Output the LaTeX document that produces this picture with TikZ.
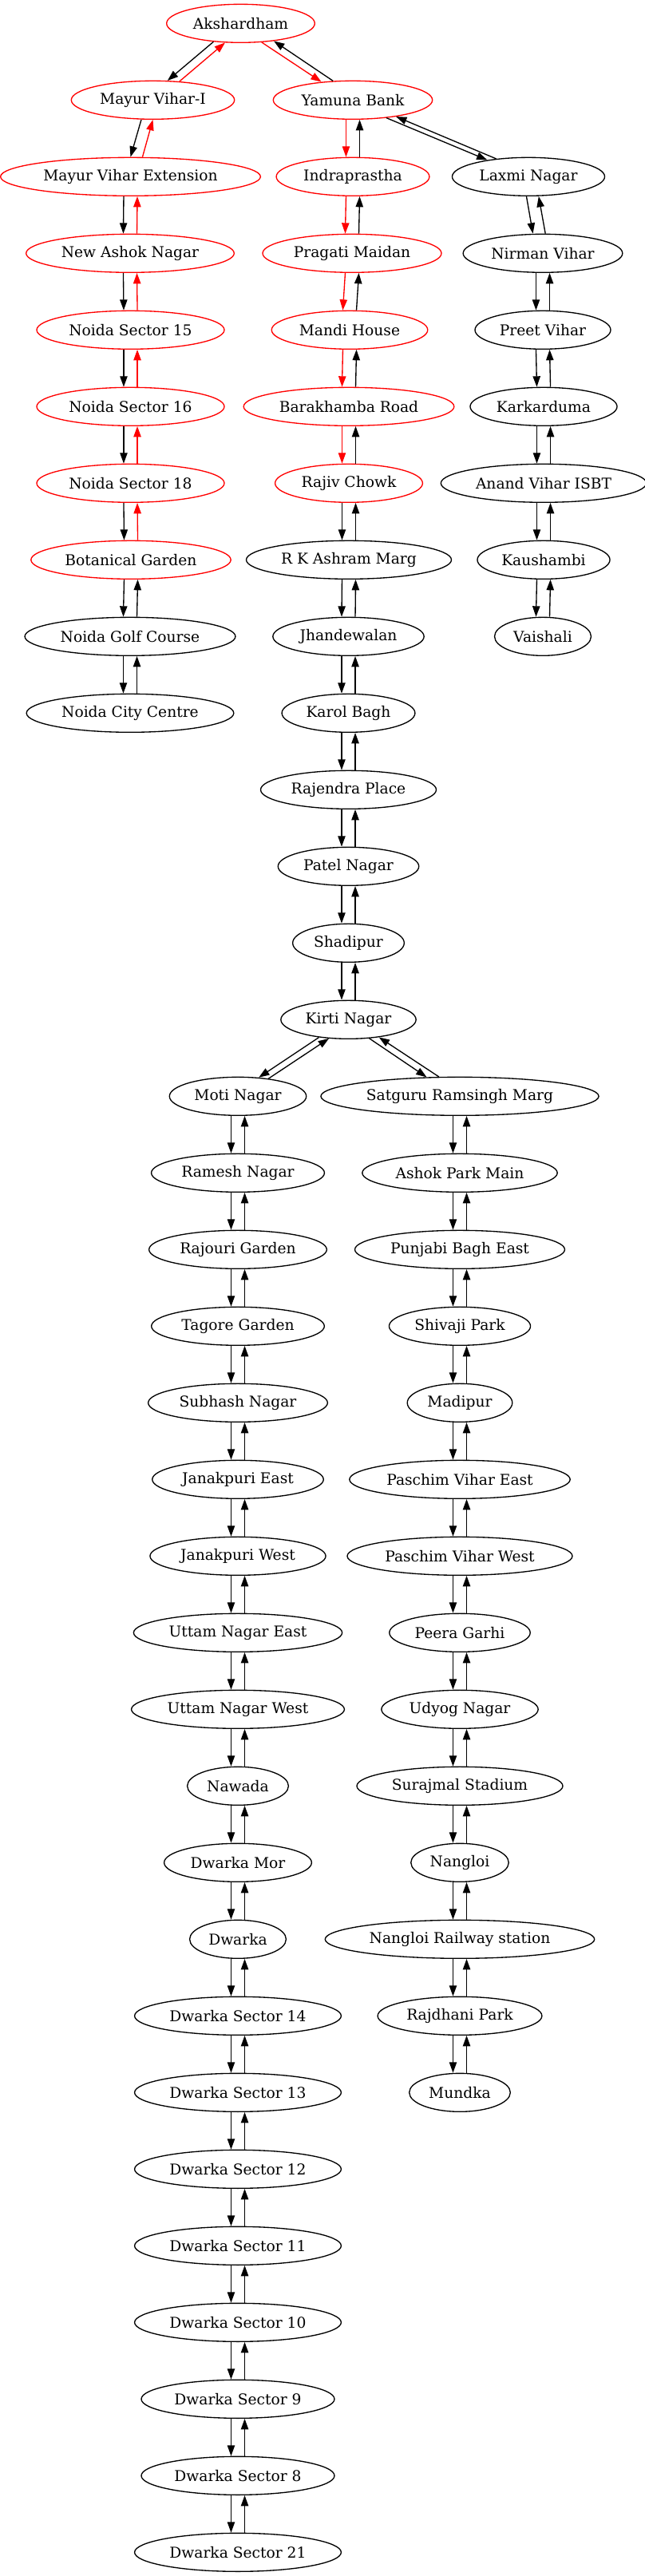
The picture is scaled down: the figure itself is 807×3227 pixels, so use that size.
\documentclass[tikz,border=0pt]{standalone}
\usepackage{fontspec}
\setmainfont{DejaVu Serif}
\usetikzlibrary{arrows.meta,shapes.geometric}
\newcommand{\updown}[4]{%
  \draw[link,#3] ([xshift=-6.4pt]#1.south) -- ([xshift=-6.4pt]#2.north);
  \draw[link,#4] ([xshift=6.4pt]#2.north) -- ([xshift=6.4pt]#1.south);}

\begin{document}
\begin{tikzpicture}[x=0.75pt,y=-0.75pt,
    stn/.style={draw,ellipse,line width=1pt,inner xsep=4.5pt,inner ysep=2pt,minimum width=54pt,minimum height=36pt,font=\fontsize{14pt}{16.8pt}\selectfont},
    redstn/.style={stn,draw=red},
    link/.style={line width=1pt,-{Triangle[length=10pt,width=7pt]}}]
            \useasboundingbox (0,0) rectangle (807,3227);

            \node[redstn] (akshardham) at (301.5,29.3) {Akshardham};
            \node[redstn] (mayurviharI) at (191.5,125.3) {Mayur Vihar-I};
            \node[redstn] (mayurviharext) at (163.5,221.3) {Mayur Vihar Extension};
            \node[redstn] (newashok) at (163,317.3) {New Ashok Nagar};
            \node[redstn] (noida15) at (163.5,413.3) {Noida Sector 15};
            \node[redstn] (noida16) at (163.5,509.3) {Noida Sector 16};
            \node[redstn] (noida18) at (163.5,605.3) {Noida Sector 18};
            \node[redstn] (botanical) at (164,701.3) {Botanical Garden};
            \node[stn] (noidagolf) at (163,797.3) {Noida Golf Course};
            \node[stn] (noidacity) at (163,893.3) {Noida City Centre};

            \node[redstn] (yamuna) at (442,125.3) {Yamuna Bank};
            \node[redstn] (indraprastha) at (442,221.3) {Indraprastha};
            \node[redstn] (pragati) at (441,317.3) {Pragati Maidan};
            \node[redstn] (mandi) at (438,413.3) {Mandi House};
            \node[redstn] (barakhamba) at (437,509.3) {Barakhamba Road};
            \node[redstn] (rajiv) at (437,605.3) {Rajiv Chowk};
            \node[stn] (rkashram) at (437,701.3) {R K Ashram Marg};
            \node[stn] (jhandewalan) at (436.5,797.3) {Jhandewalan};
            \node[stn] (karolbagh) at (436.5,893.3) {Karol Bagh};
            \node[stn] (rajendra) at (436.5,989.3) {Rajendra Place};
            \node[stn] (patel) at (436.5,1085.3) {Patel Nagar};
            \node[stn] (shadipur) at (436.5,1181.3) {Shadipur};
            \node[stn] (kirti) at (436.5,1277.3) {Kirti Nagar};

            \node[stn] (laxmi) at (662,221.3) {Laxmi Nagar};
            \node[stn] (nirman) at (680,317.3) {Nirman Vihar};
            \node[stn] (preet) at (680,413.3) {Preet Vihar};
            \node[stn] (karkarduma) at (681,509.3) {Karkarduma};
            \node[stn] (anand) at (681,605.3) {Anand Vihar ISBT};
            \node[stn] (kaushambi) at (681,701.3) {Kaushambi};
            \node[stn] (vaishali) at (680,797.3) {Vaishali};

            \node[stn] (moti) at (298,1373.3) {Moti Nagar};
            \node[stn] (ramesh) at (298,1469.3) {Ramesh Nagar};
            \node[stn] (rajouri) at (298,1565.3) {Rajouri Garden};
            \node[stn] (tagore) at (298,1661.3) {Tagore Garden};
            \node[stn] (subhash) at (298,1757.3) {Subhash Nagar};
            \node[stn] (janakE) at (298,1853.3) {Janakpuri East};
            \node[stn] (janakW) at (298,1949.3) {Janakpuri West};
            \node[stn] (uttamE) at (298,2045.3) {Uttam Nagar East};
            \node[stn] (uttamW) at (298,2141.3) {Uttam Nagar West};
            \node[stn] (nawada) at (298,2237.3) {Nawada};
            \node[stn] (dwarkamor) at (298,2333.3) {Dwarka Mor};
            \node[stn] (dwarka) at (298,2429.3) {Dwarka};
            \node[stn] (dw14) at (298,2525.3) {Dwarka Sector 14};
            \node[stn] (dw13) at (298,2621.3) {Dwarka Sector 13};
            \node[stn] (dw12) at (298,2717.3) {Dwarka Sector 12};
            \node[stn] (dw11) at (298,2813.3) {Dwarka Sector 11};
            \node[stn] (dw10) at (298,2909.3) {Dwarka Sector 10};
            \node[stn] (dw9) at (298,3005.3) {Dwarka Sector 9};
            \node[stn] (dw8) at (298,3101.3) {Dwarka Sector 8};
            \node[stn] (dw21) at (298,3197.3) {Dwarka Sector 21};

            \node[stn] (satguru) at (576,1373.3) {Satguru Ramsingh Marg};
            \node[stn] (ashokpark) at (576,1469.3) {Ashok Park Main};
            \node[stn] (punjabi) at (576,1565.3) {Punjabi Bagh East};
            \node[stn] (shivaji) at (576,1661.3) {Shivaji Park};
            \node[stn] (madipur) at (576,1757.3) {Madipur};
            \node[stn] (paschimE) at (576,1853.3) {Paschim Vihar East};
            \node[stn] (paschimW) at (576,1949.3) {Paschim Vihar West};
            \node[stn] (peera) at (576,2045.3) {Peera Garhi};
            \node[stn] (udyog) at (576,2141.3) {Udyog Nagar};
            \node[stn] (surajmal) at (576,2237.3) {Surajmal Stadium};
            \node[stn] (nangloi) at (576,2333.3) {Nangloi};
            \node[stn] (nangloirly) at (576,2429.3) {Nangloi Railway station};
            \node[stn] (rajdhani) at (576,2525.3) {Rajdhani Park};
            \node[stn] (mundka) at (576,2621.3) {Mundka};

            \draw[link] (akshardham.214) -- (mayurviharI.53);
            \draw[link,red] (mayurviharI.35) -- (akshardham.231);
            \draw[link,red] (akshardham.318) -- (yamuna.150);
            \draw[link] (yamuna.136) -- (akshardham.332);
            \draw[link] (yamuna.332) -- (laxmi.158);
            \draw[link] (laxmi.151) -- (yamuna.339);
            \draw[link] (kirti.211) -- (moti.42);
            \draw[link] (moti.30) -- (kirti.224);
            \draw[link] (kirti.318) -- (satguru.150);
            \draw[link] (satguru.137) -- (kirti.330);

            \draw[link] ([xshift=-10.9pt]mayurviharI.south) -- (mayurviharext.north);
            \draw[link,red] ([xshift=11.25pt]mayurviharext.north) -- (mayurviharI.south);
            \draw[link] ([xshift=-1.9pt]laxmi.south) -- ([xshift=-9.3pt]nirman.north);
            \draw[link] ([xshift=2.4pt]nirman.north) -- ([xshift=9.6pt]laxmi.south);

            \updown{mayurviharext}{newashok}{black}{red}
            \updown{newashok}{noida15}{black}{red}
            \updown{noida15}{noida16}{black}{red}
            \updown{noida16}{noida18}{black}{red}
            \updown{noida18}{botanical}{black}{red}
            \updown{botanical}{noidagolf}{black}{black}
            \updown{noidagolf}{noidacity}{black}{black}

            \updown{yamuna}{indraprastha}{red}{black}
            \updown{indraprastha}{pragati}{red}{black}
            \updown{pragati}{mandi}{red}{black}
            \updown{mandi}{barakhamba}{red}{black}
            \updown{barakhamba}{rajiv}{red}{black}
            \updown{rajiv}{rkashram}{black}{black}
            \updown{rkashram}{jhandewalan}{black}{black}
            \updown{jhandewalan}{karolbagh}{black}{black}
            \updown{karolbagh}{rajendra}{black}{black}
            \updown{rajendra}{patel}{black}{black}
            \updown{patel}{shadipur}{black}{black}
            \updown{shadipur}{kirti}{black}{black}

            \updown{nirman}{preet}{black}{black}
            \updown{preet}{karkarduma}{black}{black}
            \updown{karkarduma}{anand}{black}{black}
            \updown{anand}{kaushambi}{black}{black}
            \updown{kaushambi}{vaishali}{black}{black}

            \updown{moti}{ramesh}{black}{black}
            \updown{ramesh}{rajouri}{black}{black}
            \updown{rajouri}{tagore}{black}{black}
            \updown{tagore}{subhash}{black}{black}
            \updown{subhash}{janakE}{black}{black}
            \updown{janakE}{janakW}{black}{black}
            \updown{janakW}{uttamE}{black}{black}
            \updown{uttamE}{uttamW}{black}{black}
            \updown{uttamW}{nawada}{black}{black}
            \updown{nawada}{dwarkamor}{black}{black}
            \updown{dwarkamor}{dwarka}{black}{black}
            \updown{dwarka}{dw14}{black}{black}
            \updown{dw14}{dw13}{black}{black}
            \updown{dw13}{dw12}{black}{black}
            \updown{dw12}{dw11}{black}{black}
            \updown{dw11}{dw10}{black}{black}
            \updown{dw10}{dw9}{black}{black}
            \updown{dw9}{dw8}{black}{black}
            \updown{dw8}{dw21}{black}{black}

            \updown{satguru}{ashokpark}{black}{black}
            \updown{ashokpark}{punjabi}{black}{black}
            \updown{punjabi}{shivaji}{black}{black}
            \updown{shivaji}{madipur}{black}{black}
            \updown{madipur}{paschimE}{black}{black}
            \updown{paschimE}{paschimW}{black}{black}
            \updown{paschimW}{peera}{black}{black}
            \updown{peera}{udyog}{black}{black}
            \updown{udyog}{surajmal}{black}{black}
            \updown{surajmal}{nangloi}{black}{black}
            \updown{nangloi}{nangloirly}{black}{black}
            \updown{nangloirly}{rajdhani}{black}{black}
            \updown{rajdhani}{mundka}{black}{black}
        \end{tikzpicture}
\end{document}
